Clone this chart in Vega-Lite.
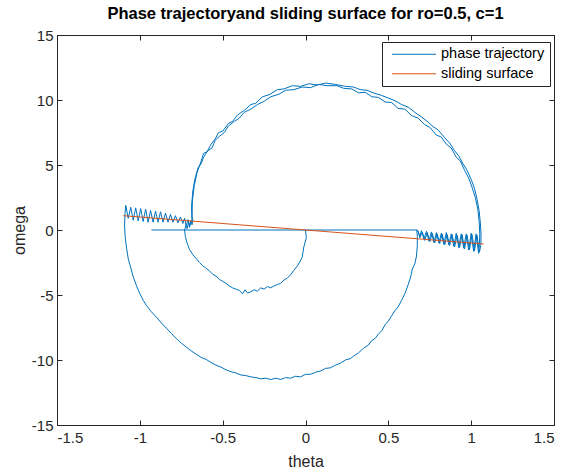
{
  "$schema": "https://vega.github.io/schema/vega-lite/v6.json",
  "width": 497,
  "height": 390,
  "autosize": "none",
  "padding": {"left": 57, "top": 35, "right": 13, "bottom": 47},
  "title": {"text": "Phase trajectoryand sliding surface for ro=0.5, c=1", "fontSize": 16.5, "fontWeight": "bold", "font": "Liberation Sans", "color": "#000000", "offset": 6, "anchor": "middle"},
  "config": {
    "view": {"stroke": "#262626", "strokeWidth": 1},
    "font": "Liberation Sans",
    "axis": {"domainColor": "#262626", "tickColor": "#262626", "labelColor": "#262626", "titleColor": "#262626", "labelFont": "Liberation Sans", "titleFont": "Liberation Sans", "labelFontSize": 15, "titleFontSize": 16, "titleFontWeight": "normal", "grid": false, "tickSize": -5, "labelPadding": 10}
  },
  "datasets": {
    "trajectory": [
      {"theta":0,"omega":0},{"theta":0.005,"omega":-0.6},{"theta":-0.01,"omega":-1.3},{"theta":-0.02,"omega":-2.1},{"theta":-0.045,"omega":-2.7},{"theta":-0.07,"omega":-3.1},{"theta":-0.09,"omega":-3.45},{"theta":-0.11,"omega":-3.7},{"theta":-0.13,"omega":-3.85},{"theta":-0.15,"omega":-4.1},{"theta":-0.17,"omega":-4.2},{"theta":-0.19,"omega":-4.3},{"theta":-0.21,"omega":-4.45},{"theta":-0.23,"omega":-4.35},{"theta":-0.25,"omega":-4.55},{"theta":-0.27,"omega":-4.45},{"theta":-0.29,"omega":-4.7},{"theta":-0.31,"omega":-4.6},{"theta":-0.33,"omega":-4.75},{"theta":-0.35,"omega":-4.85},{"theta":-0.365,"omega":-4.6},{"theta":-0.38,"omega":-4.9},{"theta":-0.40,"omega":-4.65},{"theta":-0.42,"omega":-4.55},{"theta":-0.44,"omega":-4.45},{"theta":-0.46,"omega":-4.3},{"theta":-0.48,"omega":-4.1},{"theta":-0.50,"omega":-3.95},{"theta":-0.52,"omega":-3.8},{"theta":-0.54,"omega":-3.55},{"theta":-0.56,"omega":-3.4},{"theta":-0.58,"omega":-3.15},{"theta":-0.60,"omega":-2.95},{"theta":-0.62,"omega":-2.75},{"theta":-0.64,"omega":-2.5},{"theta":-0.66,"omega":-2.2},{"theta":-0.68,"omega":-1.9},{"theta":-0.70,"omega":-1.5},{"theta":-0.715,"omega":-1.0},{"theta":-0.725,"omega":-0.5},{"theta":-0.73,"omega":0},
      {"theta":-0.72,"omega":0.4},{"theta":-0.715,"omega":0.1},{"theta":-0.705,"omega":0.6},{"theta":-0.70,"omega":0.2},{"theta":-0.69,"omega":0.7},{"theta":-0.685,"omega":0.4},{"theta":-0.68,"omega":0.8},
      {"theta":-0.685,"omega":1.0},{"theta":-0.683,"omega":2.2},{"theta":-0.672,"omega":3.4},{"theta":-0.655,"omega":4.4},{"theta":-0.63,"omega":5.3},{"theta":-0.615,"omega":5.9},{"theta":-0.595,"omega":6.0},{"theta":-0.57,"omega":6.6},{"theta":-0.545,"omega":7.0},{"theta":-0.525,"omega":7.5},{"theta":-0.50,"omega":7.6},{"theta":-0.465,"omega":8.2},{"theta":-0.44,"omega":8.35},{"theta":-0.41,"omega":8.85},{"theta":-0.37,"omega":9.2},{"theta":-0.33,"omega":9.65},{"theta":-0.30,"omega":9.75},{"theta":-0.26,"omega":10.25},{"theta":-0.22,"omega":10.4},{"theta":-0.17,"omega":10.8},{"theta":-0.13,"omega":10.85},{"theta":-0.08,"omega":11.1},{"theta":-0.03,"omega":11.05},{"theta":0.02,"omega":11.25},{"theta":0.07,"omega":11.15},{"theta":0.12,"omega":11.3},{"theta":0.18,"omega":11.2},{"theta":0.24,"omega":11.05},{"theta":0.29,"omega":11.0},{"theta":0.33,"omega":10.8},{"theta":0.37,"omega":10.75},{"theta":0.42,"omega":10.5},{"theta":0.46,"omega":10.35},{"theta":0.50,"omega":10.15},{"theta":0.54,"omega":9.95},{"theta":0.58,"omega":9.65},{"theta":0.62,"omega":9.45},{"theta":0.66,"omega":9.05},{"theta":0.70,"omega":8.7},{"theta":0.74,"omega":8.3},{"theta":0.77,"omega":7.95},{"theta":0.80,"omega":7.7},{"theta":0.84,"omega":7.1},{"theta":0.87,"omega":6.7},{"theta":0.90,"omega":6.1},{"theta":0.925,"omega":5.7},{"theta":0.95,"omega":5.1},{"theta":0.975,"omega":4.6},{"theta":1.0,"omega":3.9},{"theta":1.02,"omega":3.2},{"theta":1.035,"omega":2.4},{"theta":1.048,"omega":1.5},{"theta":1.055,"omega":0.6},{"theta":1.06,"omega":-0.4},{"theta":1.058,"omega":-1.2},
      {"theta":1.05,"omega":-1.7},{"theta":1.035,"omega":-0.4},{"theta":1.02,"omega":-1.6},{"theta":1.005,"omega":-0.35},{"theta":0.99,"omega":-1.5},{"theta":0.975,"omega":-0.4},{"theta":0.96,"omega":-1.45},{"theta":0.945,"omega":-0.35},{"theta":0.93,"omega":-1.35},{"theta":0.915,"omega":-0.4},{"theta":0.90,"omega":-1.3},{"theta":0.885,"omega":-0.35},{"theta":0.87,"omega":-1.2},{"theta":0.855,"omega":-0.35},{"theta":0.84,"omega":-1.15},{"theta":0.825,"omega":-0.3},{"theta":0.81,"omega":-1.05},{"theta":0.795,"omega":-0.3},{"theta":0.78,"omega":-1.0},{"theta":0.765,"omega":-0.25},{"theta":0.75,"omega":-0.9},{"theta":0.735,"omega":-0.2},{"theta":0.72,"omega":-0.8},{"theta":0.705,"omega":-0.15},{"theta":0.69,"omega":-0.6},{"theta":0.68,"omega":-0.1},{"theta":0.672,"omega":0},
      {"theta":0.675,"omega":-0.5},{"theta":0.675,"omega":-1.2},{"theta":0.67,"omega":-2.0},{"theta":0.66,"omega":-2.6},{"theta":0.645,"omega":-3.0},{"theta":0.635,"omega":-3.6},{"theta":0.62,"omega":-4.2},{"theta":0.60,"omega":-4.9},{"theta":0.58,"omega":-5.4},{"theta":0.56,"omega":-5.9},{"theta":0.54,"omega":-6.2},{"theta":0.52,"omega":-6.6},{"theta":0.50,"omega":-7.0},{"theta":0.48,"omega":-7.3},{"theta":0.46,"omega":-7.75},{"theta":0.44,"omega":-8.0},{"theta":0.42,"omega":-8.35},{"theta":0.40,"omega":-8.5},{"theta":0.38,"omega":-8.85},{"theta":0.35,"omega":-9.1},{"theta":0.32,"omega":-9.45},{"theta":0.29,"omega":-9.7},{"theta":0.27,"omega":-9.9},{"theta":0.24,"omega":-10.0},{"theta":0.21,"omega":-10.25},{"theta":0.18,"omega":-10.4},{"theta":0.15,"omega":-10.6},{"theta":0.12,"omega":-10.65},{"theta":0.09,"omega":-10.85},{"theta":0.06,"omega":-10.95},{"theta":0.03,"omega":-11.1},{"theta":0.0,"omega":-11.1},{"theta":-0.03,"omega":-11.3},{"theta":-0.06,"omega":-11.25},{"theta":-0.09,"omega":-11.4},{"theta":-0.12,"omega":-11.35},{"theta":-0.15,"omega":-11.5},{"theta":-0.18,"omega":-11.4},{"theta":-0.21,"omega":-11.5},{"theta":-0.24,"omega":-11.4},{"theta":-0.27,"omega":-11.45},{"theta":-0.30,"omega":-11.35},{"theta":-0.33,"omega":-11.3},{"theta":-0.36,"omega":-11.2},{"theta":-0.39,"omega":-11.15},{"theta":-0.42,"omega":-11.0},{"theta":-0.45,"omega":-10.9},{"theta":-0.48,"omega":-10.75},{"theta":-0.51,"omega":-10.55},{"theta":-0.54,"omega":-10.4},{"theta":-0.57,"omega":-10.2},{"theta":-0.60,"omega":-9.95},{"theta":-0.63,"omega":-9.8},{"theta":-0.66,"omega":-9.55},{"theta":-0.69,"omega":-9.3},{"theta":-0.72,"omega":-9.0},{"theta":-0.75,"omega":-8.7},{"theta":-0.78,"omega":-8.35},{"theta":-0.81,"omega":-7.95},{"theta":-0.84,"omega":-7.55},{"theta":-0.87,"omega":-7.15},{"theta":-0.90,"omega":-6.7},{"theta":-0.93,"omega":-6.3},{"theta":-0.96,"omega":-5.8},{"theta":-0.98,"omega":-5.4},{"theta":-1.00,"omega":-4.9},{"theta":-1.02,"omega":-4.3},{"theta":-1.04,"omega":-3.6},{"theta":-1.055,"omega":-2.9},{"theta":-1.07,"omega":-2.2},{"theta":-1.08,"omega":-1.4},{"theta":-1.088,"omega":-0.6},{"theta":-1.092,"omega":0.3},{"theta":-1.09,"omega":1.2},{"theta":-1.085,"omega":1.9},
      {"theta":-1.07,"omega":0.9},{"theta":-1.055,"omega":1.75},{"theta":-1.04,"omega":0.75},{"theta":-1.025,"omega":1.7},{"theta":-1.01,"omega":0.7},{"theta":-0.995,"omega":1.65},{"theta":-0.98,"omega":0.65},{"theta":-0.965,"omega":1.6},{"theta":-0.95,"omega":0.6},{"theta":-0.935,"omega":1.5},{"theta":-0.92,"omega":0.6},{"theta":-0.905,"omega":1.45},{"theta":-0.89,"omega":0.6},{"theta":-0.875,"omega":1.4},{"theta":-0.86,"omega":0.6},{"theta":-0.845,"omega":1.3},{"theta":-0.83,"omega":0.6},{"theta":-0.815,"omega":1.2},{"theta":-0.80,"omega":0.6},{"theta":-0.785,"omega":1.1},{"theta":-0.77,"omega":0.55},{"theta":-0.755,"omega":1.0},{"theta":-0.74,"omega":0.5},{"theta":-0.73,"omega":0.9},{"theta":-0.72,"omega":0.3},{"theta":-0.71,"omega":0.8},{"theta":-0.70,"omega":0.35},{"theta":-0.69,"omega":0.75},
      {"theta":-0.685,"omega":0.7},{"theta":-0.688,"omega":1.8},{"theta":-0.68,"omega":3.0},{"theta":-0.668,"omega":3.9},{"theta":-0.648,"omega":4.8},{"theta":-0.63,"omega":5.1},{"theta":-0.615,"omega":5.6},{"theta":-0.59,"omega":6.1},{"theta":-0.565,"omega":6.3},{"theta":-0.545,"omega":6.9},{"theta":-0.52,"omega":7.2},{"theta":-0.49,"omega":7.5},{"theta":-0.465,"omega":8.0},{"theta":-0.43,"omega":8.35},{"theta":-0.40,"omega":8.6},{"theta":-0.37,"omega":9.05},{"theta":-0.33,"omega":9.3},{"theta":-0.29,"omega":9.65},{"theta":-0.25,"omega":9.9},{"theta":-0.21,"omega":10.25},{"theta":-0.16,"omega":10.45},{"theta":-0.12,"omega":10.75},{"theta":-0.07,"omega":10.8},{"theta":-0.02,"omega":11.0},{"theta":0.03,"omega":10.95},{"theta":0.08,"omega":11.2},{"theta":0.13,"omega":11.1},{"theta":0.19,"omega":11.1},{"theta":0.23,"omega":10.9},{"theta":0.28,"omega":10.85},{"theta":0.32,"omega":10.55},{"theta":0.36,"omega":10.6},{"theta":0.40,"omega":10.25},{"theta":0.44,"omega":10.2},{"theta":0.48,"omega":9.85},{"theta":0.52,"omega":9.8},{"theta":0.56,"omega":9.35},{"theta":0.60,"omega":9.3},{"theta":0.64,"omega":8.8},{"theta":0.68,"omega":8.6},{"theta":0.72,"omega":8.1},{"theta":0.75,"omega":7.9},{"theta":0.79,"omega":7.3},{"theta":0.82,"omega":7.15},{"theta":0.85,"omega":6.6},{"theta":0.88,"omega":6.3},{"theta":0.91,"omega":5.6},{"theta":0.935,"omega":5.3},{"theta":0.96,"omega":4.6},{"theta":0.985,"omega":4.0},{"theta":1.005,"omega":3.3},{"theta":1.025,"omega":2.5},{"theta":1.04,"omega":1.6},{"theta":1.048,"omega":0.7},{"theta":1.052,"omega":-0.3},{"theta":1.05,"omega":-1.1},
      {"theta":1.045,"omega":-1.8},{"theta":1.03,"omega":-0.3},{"theta":1.015,"omega":-1.65},{"theta":1.0,"omega":-0.25},{"theta":0.985,"omega":-1.55},{"theta":0.97,"omega":-0.3},{"theta":0.955,"omega":-1.4},{"theta":0.94,"omega":-0.3},{"theta":0.925,"omega":-1.35},{"theta":0.91,"omega":-0.25},{"theta":0.895,"omega":-1.25},{"theta":0.88,"omega":-0.3},{"theta":0.865,"omega":-1.15},{"theta":0.85,"omega":-0.2},{"theta":0.835,"omega":-1.1},{"theta":0.82,"omega":-0.25},{"theta":0.805,"omega":-1.0},{"theta":0.79,"omega":-0.2},{"theta":0.775,"omega":-0.95},{"theta":0.76,"omega":-0.15},{"theta":0.745,"omega":-0.85},{"theta":0.73,"omega":-0.1},{"theta":0.715,"omega":-0.7},{"theta":0.70,"omega":-0.05},{"theta":0.69,"omega":-0.5},{"theta":0.678,"omega":-0.05},{"theta":0.672,"omega":0},
      {"theta":-0.93,"omega":0}
    ],
    "surface": [
      {"theta":-1.1,"omega":1.1},{"theta":1.075,"omega":-1.075}
    ]
  },
  "resolve": {"axis": {"x": "independent", "y": "independent"}},
  "layer": [
    {
      "data": {"name": "trajectory"},
      "mark": {"type": "line", "strokeWidth": 1, "clip": true},
      "encoding": {
        "x": {"field": "theta", "type": "quantitative", "scale": {"domain": [-1.5, 1.5], "nice": false, "zero": false}, "axis": {"values": [-1.5, -1, -0.5, 0, 0.5, 1, 1.5], "labelExpr": "'' + datum.value", "title": "theta", "titlePadding": 8}},
        "y": {"field": "omega", "type": "quantitative", "scale": {"domain": [-15, 15], "nice": false, "zero": false}, "axis": {"values": [-15, -10, -5, 0, 5, 10, 15], "labelExpr": "'' + datum.value", "title": "omega", "titlePadding": 4, "labelPadding": 9}},
        "color": {"datum": "phase trajectory", "type": "nominal", "scale": {"domain": ["phase trajectory", "sliding surface"], "range": ["#0072BD", "#D95319"]},
          "legend": {"orient": "none", "legendX": 325, "legendY": 7, "title": null, "symbolType": "M-4.4,0H4.4", "symbolSize": 100, "symbolOffset": 19.75, "symbolStrokeWidth": 1, "labelFontSize": 14.5, "labelFont": "Liberation Sans", "labelColor": "#000000", "labelOffset": 19.75, "strokeColor": "#262626", "fillColor": "#ffffff", "padding": 5, "rowPadding": 4.5,
            "encode": {"symbols": {"update": {"stroke": {"scale": "color", "field": "value"}, "fill": {"value": "transparent"}}}}}},
        "order": {"value": null}
      }
    },
    {
      "data": {"name": "surface"},
      "mark": {"type": "line", "strokeWidth": 1},
      "encoding": {
        "x": {"field": "theta", "type": "quantitative", "axis": {"orient": "top", "values": [-1.5, -1, -0.5, 0, 0.5, 1, 1.5], "labels": false, "title": null}},
        "y": {"field": "omega", "type": "quantitative", "axis": {"orient": "right", "values": [-15, -10, -5, 0, 5, 10, 15], "labels": false, "title": null}},
        "color": {"datum": "sliding surface", "type": "nominal"},
        "order": {"value": null}
      }
    }
  ]
}
